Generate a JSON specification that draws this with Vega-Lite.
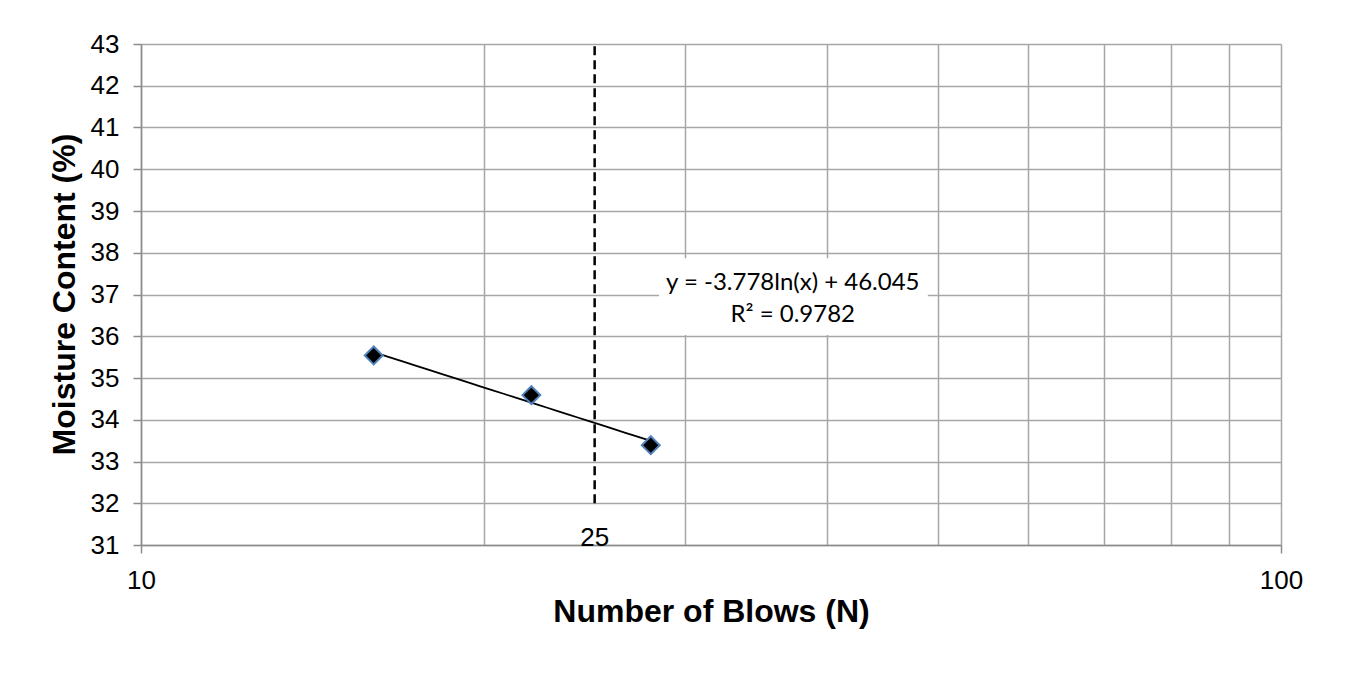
{
  "$schema": "https://vega.github.io/schema/vega-lite/v6.json",
  "description": "Flow curve: moisture content vs number of blows (log scale)",
  "autosize": {"type": "none"},
  "padding": {"left": 141, "top": 44, "right": 79, "bottom": 130},
  "width": 1140,
  "height": 501,
  "background": "white",
  "config": {
    "font": "Liberation Sans",
    "view": {"stroke": null},
    "axis": {
      "gridColor": "#a6a6a6",
      "gridWidth": 1.5,
      "domainColor": "#8c8c8c",
      "domainWidth": 1.5,
      "tickColor": "#8c8c8c",
      "tickWidth": 1.5,
      "tickSize": 8,
      "labelFontSize": 26,
      "labelColor": "#000000",
      "labelPadding": 14,
      "titleFontSize": 32,
      "titleFontWeight": "bold",
      "titleColor": "#000000"
    }
  },
  "datasets": {
    "blows": [
      {"blows": 16, "moisture": 35.54},
      {"blows": 22, "moisture": 34.59},
      {"blows": 28, "moisture": 33.39}
    ],
    "marker": [
      {"blows": 25, "top": 43, "bottom": 32, "label": "25", "labelY": 31.17}
    ],
    "box": [
      {"x1": 28.47, "x2": 49.0, "y1": 36.03, "y2": 37.87}
    ],
    "equation": [
      {"x": 37.3, "y": 37.28, "text": "y = -3.778ln(x) + 46.045"},
      {"x": 37.3, "y": 36.51, "text": "R² = 0.9782"}
    ]
  },
  "layer": [
    {
      "data": {"name": "box"},
      "mark": {"type": "rect", "fill": "white", "stroke": null},
      "encoding": {
        "x": {
          "field": "x1",
          "type": "quantitative",
          "scale": {"type": "log", "domain": [10, 100], "nice": false},
          "axis": {
            "values": [10, 20, 30, 40, 50, 60, 70, 80, 90, 100],
            "labelExpr": "datum.value == 10 || datum.value == 100 ? datum.label : ''",
            "labelFlush": false,
            "tickOpacity": {
              "condition": {"test": "datum.value == 10 || datum.value == 100", "value": 1},
              "value": 0
            },
            "format": "d",
            "title": "Number of Blows (N)",
            "titleX": 570,
            "titleY": 76,
            "titleBaseline": "alphabetic"
          }
        },
        "x2": {"field": "x2"},
        "y": {
          "field": "y1",
          "type": "quantitative",
          "scale": {"domain": [31, 43], "nice": false, "zero": false},
          "axis": {
            "values": [31, 32, 33, 34, 35, 36, 37, 38, 39, 40, 41, 42, 43],
            "labelFlush": false,
            "title": "Moisture Content (%)",
            "titleX": -67,
            "titleY": 250,
            "titleAngle": -90,
            "titleAlign": "center",
            "titleBaseline": "alphabetic"
          }
        },
        "y2": {"field": "y2"}
      }
    },
    {
      "data": {"name": "marker"},
      "mark": {"type": "rule", "color": "black", "strokeWidth": 2.5, "strokeDash": [9, 5]},
      "encoding": {
        "x": {"field": "blows", "type": "quantitative"},
        "y": {"field": "bottom", "type": "quantitative"},
        "y2": {"field": "top"}
      }
    },
    {
      "data": {"name": "marker"},
      "mark": {"type": "text", "fontSize": 26, "color": "black", "baseline": "middle", "align": "center"},
      "encoding": {
        "x": {"field": "blows", "type": "quantitative"},
        "y": {"field": "labelY", "type": "quantitative"},
        "text": {"field": "label"}
      }
    },
    {
      "data": {"name": "blows"},
      "transform": [
        {"regression": "moisture", "on": "blows", "method": "log"}
      ],
      "mark": {"type": "line", "color": "black", "strokeWidth": 1.75},
      "encoding": {
        "x": {"field": "blows", "type": "quantitative"},
        "y": {"field": "moisture", "type": "quantitative"}
      }
    },
    {
      "data": {"name": "blows"},
      "mark": {
        "type": "point",
        "shape": "diamond",
        "filled": true,
        "fill": "black",
        "stroke": "#4f81bd",
        "strokeWidth": 2,
        "size": 320,
        "opacity": 1
      },
      "encoding": {
        "x": {"field": "blows", "type": "quantitative"},
        "y": {"field": "moisture", "type": "quantitative"}
      }
    },
    {
      "data": {"name": "equation"},
      "mark": {"type": "text", "font": "Lato", "fontSize": 24, "color": "black", "align": "center", "baseline": "middle"},
      "encoding": {
        "x": {"field": "x", "type": "quantitative"},
        "y": {"field": "y", "type": "quantitative"},
        "text": {"field": "text"}
      }
    }
  ]
}
